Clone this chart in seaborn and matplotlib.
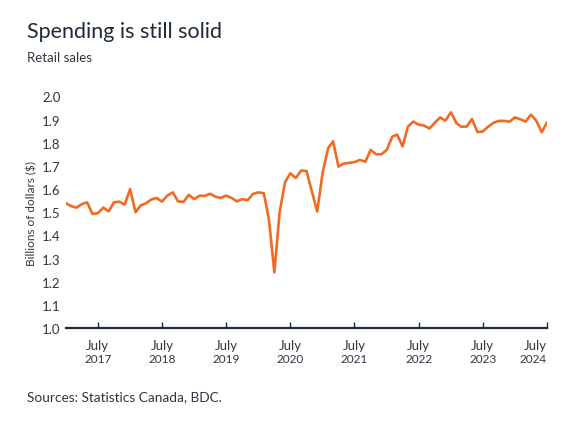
import matplotlib
matplotlib.use("Agg")
import matplotlib.pyplot as plt
import matplotlib.transforms as mtransforms
import seaborn as sns
import pandas as pd
import numpy as np

# ---- data (billions of dollars), monthly Jan 2017 .. Jul 2024 ----
start_month = "2017-01-01"
sales_2017 = [1.539, 1.526, 1.520, 1.535, 1.543, 1.493, 1.496, 1.520, 1.504, 1.543, 1.546, 1.533]
sales_2018 = [1.600, 1.500, 1.529, 1.539, 1.555, 1.562, 1.546, 1.572, 1.586, 1.547, 1.545, 1.575]
sales_2019 = [1.557, 1.572, 1.570, 1.580, 1.567, 1.562, 1.572, 1.562, 1.547, 1.557, 1.552, 1.579]
sales_2020 = [1.586, 1.582, 1.470, 1.241, 1.500, 1.630, 1.668, 1.648, 1.680, 1.678, 1.589, 1.503]
sales_2021 = [1.672, 1.776, 1.806, 1.697, 1.710, 1.713, 1.716, 1.726, 1.718, 1.769, 1.750, 1.750]
sales_2022 = [1.769, 1.826, 1.835, 1.784, 1.869, 1.891, 1.878, 1.874, 1.861, 1.886, 1.909, 1.895]
sales_2023 = [1.931, 1.885, 1.869, 1.870, 1.902, 1.846, 1.848, 1.869, 1.886, 1.894, 1.894, 1.891]
sales_2024 = [1.909, 1.901, 1.891, 1.921, 1.895, 1.845, 1.888]

tick_years = ["2017", "2018", "2019", "2020", "2021", "2022", "2023", "2024"]
tick_month_label = "July"
y_ticks = [1.0, 1.1, 1.2, 1.3, 1.4, 1.5, 1.6, 1.7, 1.8, 1.9, 2.0]

title = "Spending is still solid"
subtitle = "Retail sales"
y_label = "Billions of dollars ($)"
source = "Sources: Statistics Canada, BDC."

values = (sales_2017 + sales_2018 + sales_2019 + sales_2020 + sales_2021
          + sales_2022 + sales_2023 + sales_2024)
dates = pd.date_range(start_month, periods=len(values), freq="MS")
df = pd.DataFrame({"date": dates, "sales": values})

# ---- style ----
sns.set_theme(style="white")
plt.rcParams["font.family"] = ["Lato", "DejaVu Sans"]

LINE = "#F26A21"
NAVY = "#1E2B38"
TXT = "#2E3742"

fig = plt.figure(figsize=(5.75, 4.31), dpi=100)
ax = fig.add_axes([0.1148, 0.2360, 0.8365, 0.5382])

sns.lineplot(data=df, x="date", y="sales", ax=ax, color=LINE, linewidth=1.9)

ax.set_xlim(dates[0], pd.Timestamp("2024-07-01"))
ax.set_ylim(1.0, 2.0)

for s in ["top", "right", "left"]:
    ax.spines[s].set_visible(False)
ax.spines["bottom"].set_color(NAVY)
ax.spines["bottom"].set_linewidth(1.6)

ax.set_yticks(y_ticks)
ax.set_yticklabels([f"{v:.1f}" for v in y_ticks], fontsize=9.5, color=TXT)
ax.tick_params(axis="y", left=False, length=0, pad=4)

tick_dates = [pd.Timestamp(f"{y}-07-01") for y in tick_years]
ax.set_xticks(tick_dates)
ax.set_xticklabels([""] * len(tick_dates))
ax.tick_params(axis="x", bottom=True, direction="in", length=4, width=1.0,
               color=NAVY, pad=0)

trans = mtransforms.blended_transform_factory(ax.transData, ax.transAxes)
for i, (d, yr) in enumerate(zip(tick_dates, tick_years)):
    last = i == len(tick_dates) - 1
    ha = "right" if last else "center"
    ax.text(d, -0.045, tick_month_label, transform=trans, ha=ha, va="top",
            fontsize=9.5, color=TXT)
    ax.text(d, -0.105, yr, transform=trans, ha=ha, va="top",
            fontsize=8.5, color=TXT)

ax.set_xlabel("")
ax.set_ylabel(y_label, fontsize=8.5, color=TXT, labelpad=3)

fig.text(27 / 575, 1 - 22 / 431, title, fontsize=15.5, color=NAVY, ha="left", va="top")
fig.text(27 / 575, 1 - 52 / 431, subtitle, fontsize=9.5, color=TXT, ha="left", va="top")
fig.text(27 / 575, 1 - 391 / 431, source, fontsize=9.8, color=TXT, ha="left", va="top")

fig.savefig("out.png", dpi=100, facecolor="white")
